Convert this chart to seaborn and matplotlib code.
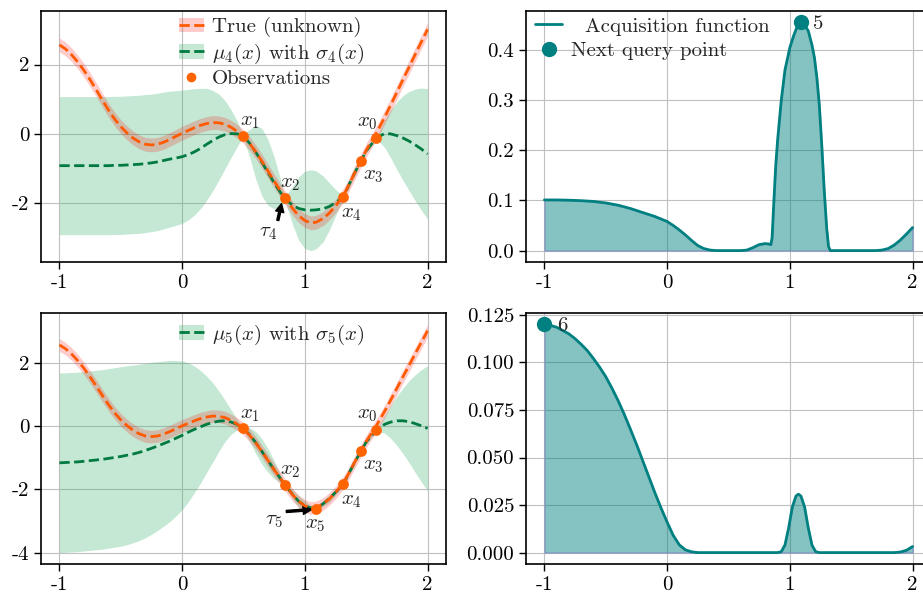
import numpy as np
import matplotlib
matplotlib.use("Agg")
import matplotlib.pyplot as plt
import seaborn as sns
from matplotlib.patches import Patch
from matplotlib.lines import Line2D

# sample positions of the GP curves (observation x's are part of the grid)
x_grid = [-1.00, -0.95, -0.90, -0.85, -0.80, -0.75, -0.70, -0.65, -0.60, -0.55,
          -0.50, -0.45, -0.40, -0.35, -0.30, -0.25, -0.20, -0.15, -0.10, -0.05,
          0.00, 0.05, 0.10, 0.15, 0.20, 0.25, 0.30, 0.35, 0.40, 0.45,
          0.495, 0.55, 0.60, 0.65, 0.70, 0.75, 0.80, 0.835, 0.90, 0.95,
          1.00, 1.05, 1.09, 1.15, 1.20, 1.25, 1.315, 1.35, 1.40, 1.455,
          1.50, 1.55, 1.585, 1.65, 1.70, 1.75, 1.80, 1.85, 1.90, 1.95, 2.00]

true_y = [2.57, 2.45, 2.28, 2.07, 1.83, 1.56, 1.27, 0.97, 0.68, 0.42,
          0.20, 0.02, -0.13, -0.24, -0.31, -0.33, -0.31, -0.25, -0.17, -0.08,
          0.01, 0.09, 0.17, 0.24, 0.29, 0.32, 0.31, 0.27, 0.18, 0.06,
          -0.07, -0.29, -0.53, -0.80, -1.09, -1.38, -1.65, -1.84, -2.17, -2.38,
          -2.52, -2.59, -2.57, -2.46, -2.30, -2.10, -1.78, -1.55, -1.18, -0.79,
          -0.48, -0.18, 0.03, 0.47, 0.83, 1.20, 1.57, 1.93, 2.30, 2.66, 3.02]

mu4 = [-0.93, -0.93, -0.93, -0.93, -0.93, -0.93, -0.93, -0.93, -0.93, -0.92,
       -0.92, -0.91, -0.90, -0.89, -0.87, -0.85, -0.82, -0.78, -0.74, -0.71,
       -0.67, -0.61, -0.53, -0.43, -0.31, -0.20, -0.10, -0.03, 0.00, -0.01,
       -0.06, -0.28, -0.54, -0.83, -1.13, -1.43, -1.70, -1.87, -2.08, -2.17,
       -2.21, -2.22, -2.21, -2.18, -2.11, -2.00, -1.84, -1.55, -1.18, -0.80,
       -0.50, -0.27, -0.12, 0.00, -0.01, -0.06, -0.13, -0.22, -0.33, -0.45, -0.59]

band4 = [2.00, 2.00, 2.00, 2.00, 2.00, 2.00, 2.00, 2.00, 2.00, 2.00,
         2.00, 2.00, 2.00, 2.00, 2.00, 1.99, 1.99, 1.98, 1.97, 1.95,
         1.93, 1.89, 1.83, 1.74, 1.62, 1.45, 1.24, 0.98, 0.68, 0.36,
         0.04, 0.40, 0.78, 0.98, 0.95, 0.75, 0.40, 0.04, 0.55, 0.92,
         1.12, 1.17, 1.13, 0.95, 0.68, 0.38, 0.04, 0.10, 0.10, 0.04,
         0.07, 0.06, 0.04, 0.40, 0.70, 0.98, 1.23, 1.44, 1.62, 1.77, 1.89]

mu5 = [-1.16, -1.15, -1.14, -1.13, -1.11, -1.09, -1.07, -1.05, -1.02, -0.99,
       -0.96, -0.92, -0.88, -0.83, -0.77, -0.70, -0.63, -0.55, -0.47, -0.38,
       -0.29, -0.19, -0.10, -0.02, 0.06, 0.12, 0.16, 0.17, 0.13, 0.05,
       -0.06, -0.27, -0.52, -0.80, -1.09, -1.38, -1.65, -1.85, -2.16, -2.38,
       -2.52, -2.59, -2.61, -2.45, -2.29, -2.09, -1.84, -1.55, -1.19, -0.80,
       -0.50, -0.27, -0.12, 0.06, 0.13, 0.17, 0.17, 0.14, 0.08, 0.01, -0.07]

band5 = [2.84, 2.84, 2.84, 2.84, 2.84, 2.84, 2.84, 2.84, 2.84, 2.84,
         2.84, 2.83, 2.81, 2.79, 2.76, 2.72, 2.67, 2.61, 2.55, 2.46,
         2.35, 2.20, 2.00, 1.78, 1.52, 1.25, 0.95, 0.65, 0.38, 0.16,
         0.04, 0.22, 0.35, 0.40, 0.37, 0.28, 0.14, 0.04, 0.14, 0.18,
         0.15, 0.08, 0.04, 0.09, 0.12, 0.09, 0.04, 0.06, 0.07, 0.04,
         0.05, 0.05, 0.04, 0.28, 0.52, 0.78, 1.04, 1.30, 1.55, 1.78, 1.98]

noise_band = 0.2

obs_names = ["$x_0$", "$x_1$", "$x_2$", "$x_3$", "$x_4$", "$x_5$"]
obs_x = [1.583, 0.495, 0.835, 1.455, 1.314, 1.088]
obs_y = [-0.116, -0.058, -1.87, -0.80, -1.84, -2.61]

acq4_x = [-1.0, -0.9, -0.8, -0.7, -0.6, -0.5, -0.4, -0.3, -0.2, -0.1,
          0.0, 0.05, 0.1, 0.15, 0.2, 0.25, 0.3, 0.35, 0.4, 0.5,
          0.6, 0.65, 0.7, 0.75, 0.8, 0.83, 0.845, 0.855, 0.87, 0.885,
          0.9, 0.93, 0.96, 1.0, 1.03, 1.06, 1.09, 1.12, 1.15, 1.18,
          1.2, 1.22, 1.24, 1.26, 1.28, 1.3, 1.315, 1.33, 1.4, 1.5,
          1.6, 1.7, 1.75, 1.8, 1.85, 1.9, 1.95, 2.0]
acq4_y = [0.101, 0.101, 0.1005, 0.0995, 0.098, 0.095, 0.0905, 0.084, 0.076, 0.068,
          0.058, 0.050, 0.041, 0.031, 0.020, 0.010, 0.004, 0.001, 0.0, 0.0,
          0.0, 0.001, 0.006, 0.012, 0.014, 0.013, 0.012, 0.025, 0.10, 0.17,
          0.22, 0.30, 0.36, 0.405, 0.428, 0.447, 0.455, 0.45, 0.438, 0.41,
          0.385, 0.345, 0.29, 0.21, 0.12, 0.045, 0.008, 0.0, 0.0, 0.0,
          0.0, 0.0, 0.001, 0.004, 0.011, 0.021, 0.033, 0.046]

acq5_x = [-1.0, -0.95, -0.9, -0.85, -0.8, -0.75, -0.7, -0.65, -0.6, -0.55,
          -0.5, -0.45, -0.4, -0.35, -0.3, -0.25, -0.2, -0.15, -0.1, -0.05,
          0.0, 0.05, 0.1, 0.15, 0.2, 0.25, 0.5, 0.9, 0.93, 0.96,
          0.99, 1.02, 1.05, 1.07, 1.09, 1.12, 1.15, 1.18, 1.21, 1.24,
          1.5, 1.85, 1.9, 1.95, 2.0]
acq5_y = [0.1200, 0.1195, 0.1185, 0.1168, 0.1150, 0.1125, 0.1095, 0.1062, 0.1020, 0.0975,
          0.0925, 0.0865, 0.0800, 0.0728, 0.0650, 0.0570, 0.0485, 0.0400, 0.0315, 0.0235,
          0.0160, 0.0090, 0.0040, 0.0014, 0.0004, 0.0, 0.0, 0.0, 0.0005, 0.004,
          0.013, 0.024, 0.0298, 0.0307, 0.0298, 0.024, 0.013, 0.004, 0.0005, 0.0,
          0.0, 0.0, 0.0003, 0.0012, 0.0032]

next_pts = [(1.09, 0.455, "5"), (-1.0, 0.120, "6")]

c_true = "#ff5a00"
c_obs = "#ff6400"
c_mu = "#007a40"
c_band = "mediumseagreen"
c_acq = "teal"

sns.set_style("ticks")
plt.rcParams.update({
    "font.family": "serif",
    "font.serif": ["cmr10"],
    "mathtext.fontset": "cm",
    "axes.unicode_minus": False,
    "font.size": 15,
    "xtick.labelsize": 15,
    "ytick.labelsize": 15,
    "axes.edgecolor": "black",
    "axes.linewidth": 1.2,
    "xtick.color": "black",
    "ytick.color": "black",
    "xtick.major.size": 5,
    "ytick.major.size": 5,
    "xtick.major.width": 1.0,
    "ytick.major.width": 1.0,
})

W, H = 923, 594
fig = plt.figure(figsize=(W / 100, H / 100), dpi=100)


def box(l, t, r, b):
    return [l / W, 1 - b / H, (r - l) / W, (b - t) / H]


ax_tl = fig.add_axes(box(41, 11, 446, 262))
ax_tr = fig.add_axes(box(526, 11, 931, 262))
ax_bl = fig.add_axes(box(41, 313, 446, 564))
ax_br = fig.add_axes(box(526, 313, 931, 564))

xg = np.array(x_grid)
ty = np.array(true_y)

# label offsets (points) for the observation names
lab_off = {0: (1, 4, "right", "bottom"), 1: (-2, 3, "left", "bottom"),
           2: (-3, 4, "left", "bottom"), 3: (1.5, -4, "left", "top"),
           4: (-2, -5.5, "left", "top"), 5: (0, -5.5, "center", "top")}


def gp_panel(ax, mu, band, n_obs, k):
    mu = np.array(mu)
    band = np.array(band)
    ax.fill_between(xg, mu - band, mu + band, color=c_band, alpha=0.3, lw=0, zorder=1)
    ax.fill_between(xg, ty - noise_band, ty + noise_band, color="red", alpha=0.2, lw=0, zorder=2)
    sns.lineplot(x=xg, y=mu, ax=ax, color=c_mu, linestyle="--", linewidth=2, zorder=3)
    sns.lineplot(x=xg, y=ty, ax=ax, color=c_true, linestyle="--", linewidth=2, zorder=4)
    sns.scatterplot(x=obs_x[:n_obs], y=obs_y[:n_obs], ax=ax, color=c_obs, s=60,
                    linewidth=0, zorder=5)
    for i in range(n_obs):
        dx, dy, ha, va = lab_off[i]
        ax.annotate(obs_names[i], (obs_x[i], obs_y[i]), xytext=(dx, dy),
                    textcoords="offset points", ha=ha, va=va, fontsize=15, zorder=6)
    ax.set_xticks([-1, 0, 1, 2])
    ax.grid(True, color="#c0c0c0", lw=0.8)
    ax.set_axisbelow(True)
    ax.set_xlabel("")
    ax.set_ylabel("")
    h_mu = (Patch(facecolor=c_band, alpha=0.3, lw=0),
            Line2D([], [], color=c_mu, ls="--", lw=2))
    lab_mu = r"$\mu_%d(x)$ with $\sigma_%d(x)$" % (k, k)
    return h_mu, lab_mu


h_mu4, l_mu4 = gp_panel(ax_tl, mu4, band4, 5, 4)
h_true = (Patch(facecolor="red", alpha=0.2, lw=0),
          Line2D([], [], color=c_true, ls="--", lw=2))
h_obs = Line2D([], [], marker="o", ls="", color=c_obs, markersize=7, markeredgewidth=0)
ax_tl.legend([h_true, h_mu4, h_obs], ["True (unknown)", l_mu4, "Observations"],
             loc="upper left", bbox_to_anchor=(0.32, 1.008), frameon=False,
             handlelength=1.2, handletextpad=0.4, borderaxespad=0, labelspacing=0.2)
ax_tl.annotate(r"$\tau_4$", xy=(0.81, -2.03), xytext=(0.70, -2.87),
               ha="center", va="center", fontsize=15,
               arrowprops=dict(facecolor="black", edgecolor="black", width=1.5,
                               headwidth=6, headlength=6, shrink=0.0))

h_mu5, l_mu5 = gp_panel(ax_bl, mu5, band5, 6, 5)
ax_bl.legend([h_mu5], [l_mu5], loc="upper left", bbox_to_anchor=(0.32, 0.995),
             frameon=False, handlelength=1.2, handletextpad=0.4, borderaxespad=0)
ax_bl.annotate(r"$\tau_5$", xy=(1.054, -2.64), xytext=(0.75, -2.99),
               ha="center", va="center", fontsize=15,
               arrowprops=dict(facecolor="black", edgecolor="black", width=1.5,
                               headwidth=6, headlength=6, shrink=0.0))

for ax, ax_x, ax_y, (nx, ny, nl) in [(ax_tr, acq4_x, acq4_y, next_pts[0]),
                                     (ax_br, acq5_x, acq5_y, next_pts[1])]:
    ax.fill_between(ax_x, ax_y, 0, facecolor=c_acq, alpha=0.48,
                    edgecolor="#7070c8", lw=1.0, zorder=1)
    sns.lineplot(x=ax_x, y=ax_y, ax=ax, color=c_acq, linewidth=2, zorder=3)
    ax.plot([nx], [ny], "o", color=c_acq, markersize=10, zorder=4)
    ax.annotate(nl, (nx, ny), xytext=(9, -1), textcoords="offset points",
                ha="left", va="center", fontsize=15)
    ax.set_xticks([-1, 0, 1, 2])
    ax.grid(True, color="#c0c0c0", lw=0.8)
    ax.set_axisbelow(True)
    ax.set_xlabel("")
    ax.set_ylabel("")

h_acq = Line2D([], [], color=c_acq, lw=2)
h_next = Line2D([], [], marker="o", ls="", color=c_acq, markersize=10)
ax_tr.legend([h_acq, h_next], ["  Acquisition function", "Next query point"],
             loc="upper left", bbox_to_anchor=(0.002, 1.009), frameon=False,
             handlelength=1.3, handletextpad=0.4, borderaxespad=0, labelspacing=0.3)

fig.savefig("out.png", dpi=100)
